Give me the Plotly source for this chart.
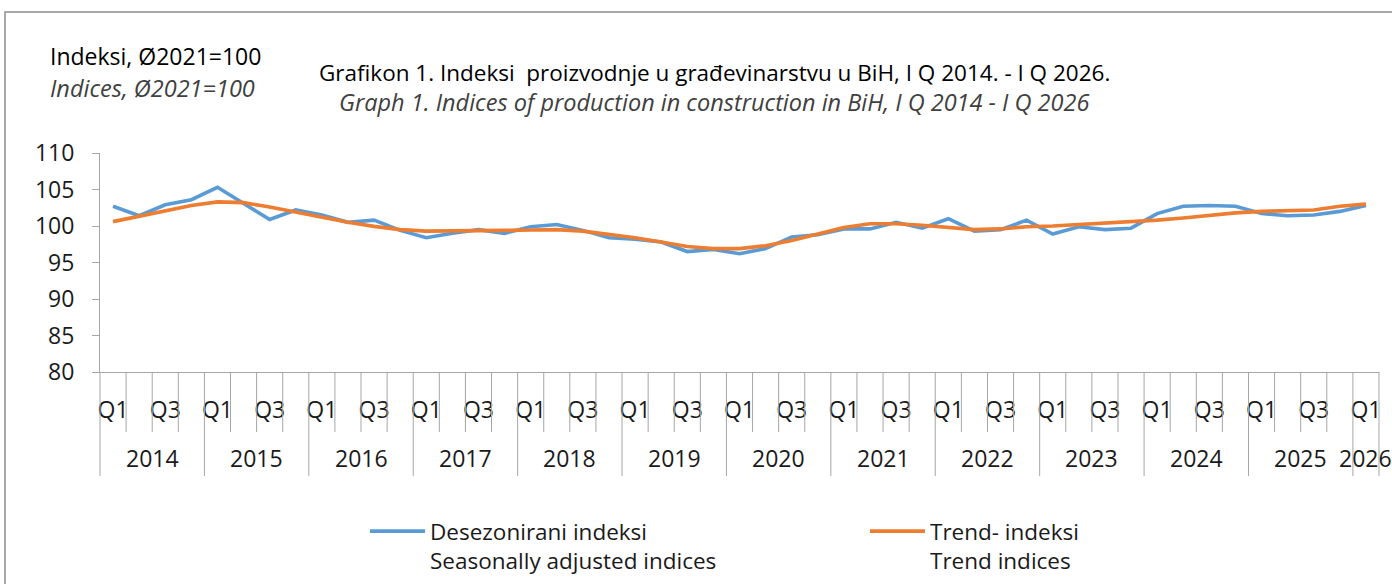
import plotly.graph_objects as go

years = list(range(2014, 2027))
quarters = ["Q1", "Q2", "Q3", "Q4"]

# Seasonally adjusted indices (Q1 2014 ... Q1 2026)
seasonal = [102.7, 101.4, 102.9, 103.6, 105.3, 103.1, 100.9, 102.2,
            101.5, 100.5, 100.8, 99.4, 98.4, 99.0, 99.5, 99.0,
            99.9, 100.2, 99.4, 98.4, 98.2, 97.8, 96.5, 96.8,
            96.2, 96.9, 98.5, 98.8, 99.6, 99.6, 100.5, 99.7,
            101.0, 99.3, 99.5, 100.8, 98.9, 99.9, 99.5, 99.7,
            101.7, 102.7, 102.8, 102.7, 101.7, 101.4, 101.5, 102.0,
            102.8]
# Trend indices
trend = [100.6, 101.3, 102.0, 102.8, 103.3, 103.2, 102.6, 101.9,
         101.2, 100.5, 99.95, 99.5, 99.3, 99.3, 99.4, 99.4,
         99.45, 99.5, 99.3, 98.9, 98.4, 97.8, 97.2, 96.9,
         96.9, 97.3, 98.0, 98.9, 99.8, 100.3, 100.3, 100.1,
         99.75, 99.5, 99.6, 99.9, 100.0, 100.2, 100.4, 100.5,
         100.8, 101.1, 101.5, 101.8, 102.0, 102.1, 102.2, 102.7,
         103.0]

name_sa = "Desezonirani indeksi<br>Seasonally adjusted indices"
name_tr = "Trend- indeksi<br>Trend indices"

y_ticks = [80, 85, 90, 95, 100, 105, 110]

# category structure
cat_year = []
cat_q = []
for y in years:
    for q in quarters:
        if len(cat_year) < len(seasonal):
            cat_year.append(y)
            cat_q.append(q)
n = len(cat_year)
xs = list(range(n))

W, H = 1392, 584
L, R, T, B = 100, 13, 153, 212
PW, PH = W - L - R, H - T - B

def py(p):
    return (H - B - p) / PH

def pxx(p):
    return (p - L) / PW

FONT = "Open Sans"
GRAY = "#a6a6a6"
TXT = "#1a1a1a"

fig = go.Figure()
fig.add_trace(go.Scatter(x=xs, y=seasonal, mode="lines", name=name_sa,
                         line=dict(color="#5B9BD5", width=3.6)))
fig.add_trace(go.Scatter(x=xs, y=trend, mode="lines", name=name_tr,
                         line=dict(color="#ED7D31", width=3.6)))

shapes = []
# category boundary ticks
x0r, x1r = -0.5, n - 0.5
for b in range(n + 1):
    bx = b - 0.5
    is_year = (b == 0) or (b == n) or (cat_q[b] == "Q1")
    xp = (bx - x0r) / (x1r - x0r)
    shapes.append(dict(type="line", xref="paper", yref="paper",
                       x0=xp, x1=xp, y0=0, y1=py(476) if is_year else py(432),
                       line=dict(color=GRAY, width=1)))
# outer chart border
shapes.append(dict(type="rect", xref="paper", yref="paper",
                   x0=pxx(5), x1=pxx(1420), y0=py(12), y1=py(620),
                   line=dict(color="#8c8c8c", width=1.5)))

annotations = []
for y in years:
    idx = [i for i in xs if cat_year[i] == y]
    if not idx:
        continue
    annotations.append(dict(x=sum(idx) / len(idx), y=py(458), xref="x", yref="paper",
                            text=str(y), showarrow=False, xanchor="center", yanchor="middle",
                            font=dict(family=FONT, size=23, color=TXT)))

annotations += [
    dict(x=pxx(48), y=py(56), xref="paper", yref="paper", text="Indeksi, Ø2021=100",
         showarrow=False, xanchor="left", yanchor="middle",
         font=dict(family=FONT, size=23, color="#000000")),
    dict(x=pxx(48), y=py(88), xref="paper", yref="paper", text="<i>Indices, Ø2021=100</i>",
         showarrow=False, xanchor="left", yanchor="middle",
         font=dict(family=FONT, size=23.5, color="#404040")),
    dict(x=pxx(714), y=py(72), xref="paper", yref="paper",
         text="Grafikon 1. Indeksi  proizvodnje u građevinarstvu u BiH, I Q 2014. - I Q 2026.",
         showarrow=False, xanchor="center", yanchor="middle",
         font=dict(family=FONT, size=22.5, color="#000000")),
    dict(x=pxx(714), y=py(102), xref="paper", yref="paper",
         text="<i>Graph 1. Indices of production in construction in BiH, I Q 2014 - I Q 2026</i>",
         showarrow=False, xanchor="center", yanchor="middle",
         font=dict(family=FONT, size=23.5, color="#404040")),
]

fig.update_layout(
    width=W, height=H,
    margin=dict(l=L, r=R, t=T, b=B, pad=0),
    plot_bgcolor="white", paper_bgcolor="white",
    showlegend=True,
    legend=dict(orientation="h", xref="container", yref="container",
                x=365 / W, y=1 - 510 / H, xanchor="left", yanchor="top",
                font=dict(family=FONT, size=22.5, color=TXT),
                itemwidth=55, entrywidth=430, valign="top",
                bgcolor="rgba(0,0,0,0)"),
    shapes=shapes,
    annotations=annotations,
)
fig.update_xaxes(range=[x0r, x1r], showline=True, linecolor=GRAY, linewidth=1,
                 showgrid=False, zeroline=False,
                 tickmode="array", tickvals=[i for i in xs if cat_q[i] in ("Q1", "Q3")],
                 ticktext=[cat_q[i] for i in xs if cat_q[i] in ("Q1", "Q3")],
                 ticks="", ticklabelstandoff=17,
                 tickfont=dict(family=FONT, size=23, color=TXT))
fig.update_yaxes(range=[80, 110], tickvals=y_ticks, showline=True, linecolor=GRAY,
                 linewidth=1, showgrid=False, zeroline=False,
                 ticks="outside", ticklen=7, tickcolor=GRAY, ticklabelstandoff=13,
                 tickfont=dict(family=FONT, size=23, color=TXT))

fig.write_html("out.html", config={"displayModeBar": False},
               post_script="document.body.style.margin='0';")
